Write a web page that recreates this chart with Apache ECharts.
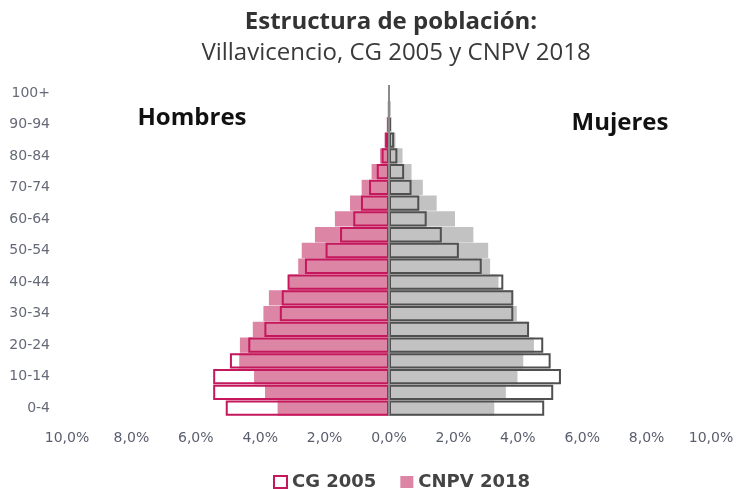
<!DOCTYPE html>
<html>
<head>
<meta charset="utf-8">
<title>Estructura de población</title>
<script src="https://cdn.jsdelivr.net/npm/echarts@6/dist/echarts.min.js"></script>
<style>
  html, body { margin: 0; padding: 0; background: #fff; }
  #chart { width: 738px; height: 489px; }
</style>
</head>
<body>
<div id="chart"></div>
<script>
// grupos de edad (abajo -> arriba)
var ageGroups = ['0-4', '5-9', '10-14', '15-19', '20-24', '25-29', '30-34', '35-39', '40-44', '45-49',
  '50-54', '55-59', '60-64', '65-69', '70-74', '75-79', '80-84', '85-89', '90-94', '95-99', '100+'];

// % de la población total
var menCG2005 = [5.07, 5.46, 5.46, 4.94, 4.37, 3.87, 3.39, 3.33, 3.15, 2.61,
  1.97, 1.52, 1.11, 0.87, 0.62, 0.38, 0.23, 0.12, 0.04, 0.01, 0.0];
var menCNPV2018 = [3.46, 3.85, 4.19, 4.65, 4.63, 4.23, 3.90, 3.73, 3.10, 2.82,
  2.71, 2.30, 1.68, 1.21, 0.85, 0.54, 0.28, 0.14, 0.07, 0.02, 0.01];
var womenCG2005 = [4.82, 5.10, 5.34, 5.02, 4.79, 4.35, 3.86, 3.86, 3.55, 2.88,
  2.17, 1.64, 1.17, 0.94, 0.70, 0.47, 0.26, 0.16, 0.06, 0.02, 0.0];
var womenCNPV2018 = [3.27, 3.63, 3.99, 4.17, 4.50, 4.33, 3.97, 3.85, 3.40, 3.14,
  3.08, 2.62, 2.05, 1.48, 1.05, 0.70, 0.42, 0.20, 0.08, 0.02, 0.01];

var xTicks = { min: -10, max: 10, interval: 2 };

var FONT = '"Open Sans", "DejaVu Sans", sans-serif';
var FONT_WIDE = '"DejaVu Sans", sans-serif';
var PINK = '#dc85a5';
var PINK_DARK = '#c4175c';
var GRAY = '#c2c2c2';
var GRAY_DARK = '#505050';
var GAP = '3%';

function neg(arr) {
  return arr.map(function(v) { return -v; });
}

var myChart = echarts.init(document.getElementById('chart'));
var option = {
  animation: false,
  textStyle: { fontFamily: FONT },
  graphic: [
    { type: 'text', x: 391, y: 22,
      style: { text: 'Estructura de población:', align: 'center', verticalAlign: 'middle',
        fontFamily: FONT, fontSize: 24, fontWeight: 'bold', fill: '#333' } },
    { type: 'text', x: 396, y: 53,
      style: { text: 'Villavicencio, CG 2005 y CNPV 2018', align: 'center', verticalAlign: 'middle',
        fontFamily: FONT, fontSize: 24, fill: '#3a3a3a' } },
    { type: 'text', x: 192, y: 118,
      style: { text: 'Hombres', align: 'center', verticalAlign: 'middle',
        fontFamily: FONT, fontSize: 24, fontWeight: 'bold', fill: '#111' } },
    { type: 'text', x: 620, y: 123,
      style: { text: 'Mujeres', align: 'center', verticalAlign: 'middle',
        fontFamily: FONT, fontSize: 24, fontWeight: 'bold', fill: '#111' } }
  ],
  legend: {
    left: 273,
    top: 473,
    padding: 0,
    itemWidth: 13,
    itemHeight: 12,
    itemGap: 24,
    itemTextGap: 7,
    selectedMode: false,
    textStyle: { fontFamily: FONT_WIDE, fontSize: 18, fontWeight: 'bold', color: '#444' },
    data: [
      { name: 'CG 2005', icon: 'rect', itemStyle: { color: '#fff', borderColor: PINK_DARK, borderWidth: 2 } },
      { name: 'CNPV 2018', icon: 'rect', itemStyle: { color: PINK, borderWidth: 0 } }
    ]
  },
  grid: {
    left: 67,
    right: 27,
    top: 85,
    bottom: 73
  },
  xAxis: {
    type: 'value',
    min: xTicks.min,
    max: xTicks.max,
    interval: xTicks.interval,
    splitLine: { show: false },
    axisLine: { show: false },
    axisTick: { show: false },
    axisLabel: {
      margin: 15,
      fontFamily: FONT_WIDE,
      fontSize: 14,
      color: '#5a5d6e',
      formatter: function(v) {
        return Math.abs(v).toFixed(1).replace('.', ',') + '%';
      }
    }
  },
  yAxis: {
    type: 'category',
    data: ageGroups,
    axisLine: { show: false },
    axisTick: { show: false },
    axisLabel: {
      interval: 1,
      margin: 17,
      fontFamily: FONT_WIDE,
      fontSize: 14,
      color: '#666a78'
    }
  },
  series: [{
    name: 'CNPV 2018',
    type: 'bar',
    barGap: '-100%',
    barCategoryGap: GAP,
    itemStyle: { color: PINK },
    data: neg(menCNPV2018)
  }, {
    name: 'CNPV 2018',
    type: 'bar',
    barGap: '-100%',
    barCategoryGap: GAP,
    itemStyle: { color: GRAY },
    data: womenCNPV2018
  }, {
    name: 'CG 2005',
    type: 'bar',
    barGap: '-100%',
    barCategoryGap: GAP,
    itemStyle: { color: 'rgba(0,0,0,0)', borderColor: PINK_DARK, borderWidth: 2 },
    data: neg(menCG2005)
  }, {
    name: 'CG 2005',
    type: 'bar',
    barGap: '-100%',
    barCategoryGap: GAP,
    itemStyle: { color: 'rgba(0,0,0,0)', borderColor: GRAY_DARK, borderWidth: 2 },
    data: womenCG2005,
    // línea del eje central
    markLine: {
      silent: true,
      symbol: 'none',
      label: { show: false },
      lineStyle: { color: '#8a8a8a', width: 2, type: 'solid' },
      data: [{ xAxis: 0 }]
    }
  }]
};
myChart.setOption(option);
</script>
</body>
</html>
